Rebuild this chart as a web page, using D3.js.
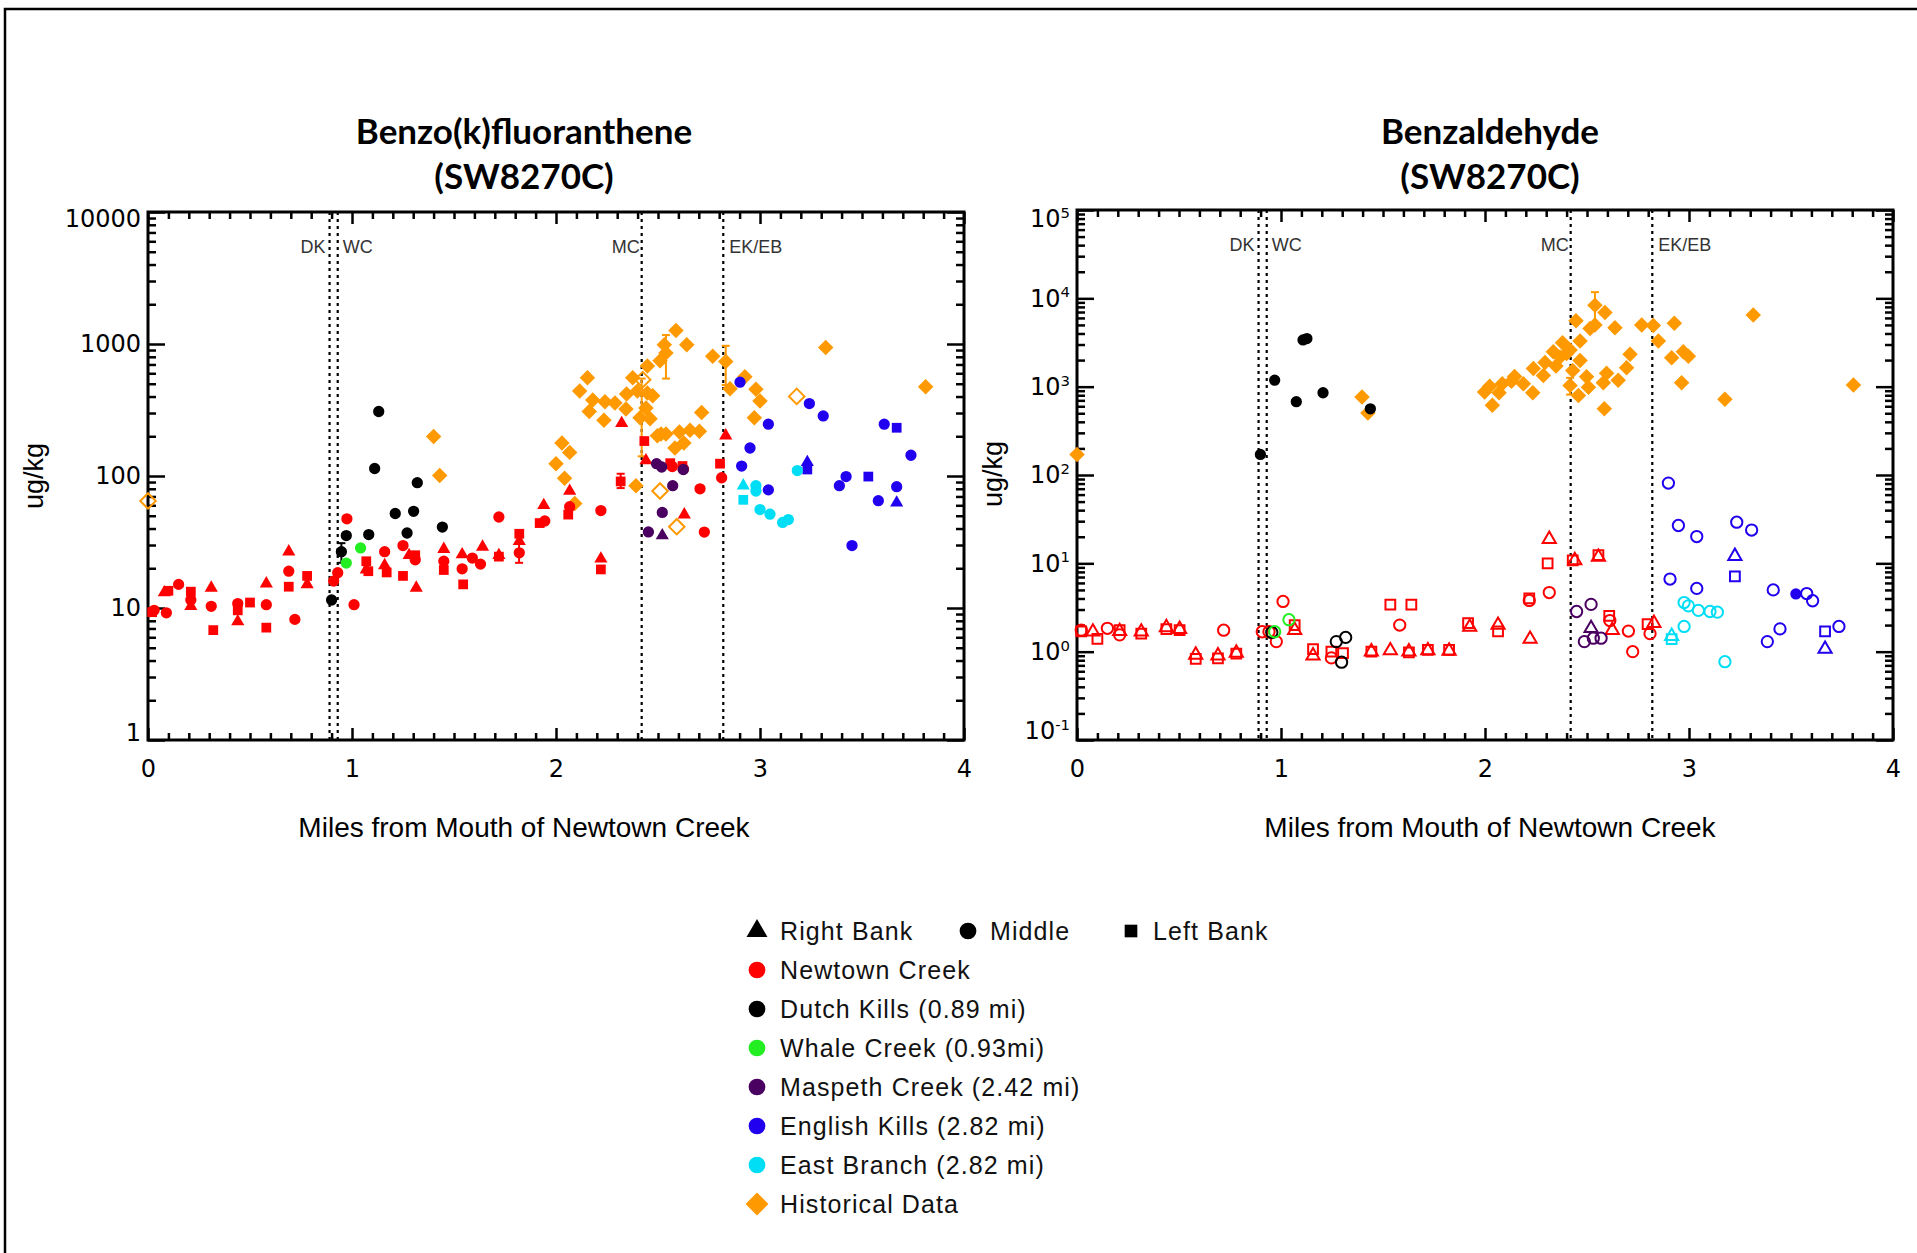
<!DOCTYPE html>
<html><head><meta charset="utf-8">
<script src="https://cdn.jsdelivr.net/npm/d3@7"></script>
<style>
body{margin:0;background:#fff}
svg{display:block}
</style></head><body>
<svg id="chart" width="1917" height="1253"></svg>
<script>
// ---- data: [mile, value, bank (R/M/L), nondetect] ----
const bkfNewtown = [
  [0.02,9.3,"L",0],[0.03,9.6,"M",0],[0.08,13.1,"R",0],[0.10,13.5,"L",0],[0.09,9.2,"M",0],[0.15,15.1,"M",0],
  [0.21,13.3,"L",0],[0.21,11.5,"M",0],[0.21,10.3,"R",0],[0.31,14.2,"R",0],[0.31,10.3,"M",0],[0.32,6.8,"L",0],
  [0.44,10.8,"M",0],[0.44,9.6,"L",0],[0.44,7.9,"R",0],[0.50,11.0,"L",0],[0.58,15.3,"R",0],[0.58,10.6,"M",0],
  [0.58,7.1,"L",0],[0.69,26.7,"R",0],[0.69,19.0,"M",0],[0.69,14.5,"L",0],[0.72,8.2,"M",0],[0.78,17.5,"L",0],
  [0.78,15.1,"R",0],[0.91,16.0,"M",0],[0.93,18.5,"M",0],[0.975,47.4,"M",0],[1.01,10.6,"M",0],[1.07,22.6,"L",0],
  [1.07,19.5,"R",0],[1.08,19.0,"L",0],[1.16,26.7,"M",0],[1.16,21.0,"R",0],[1.17,18.6,"L",0],[1.25,29.7,"M",0],
  [1.25,17.5,"L",0],[1.28,25.1,"R",0],[1.31,25.1,"L",0],[1.31,23.2,"M",0],[1.315,14.2,"R",0],[1.45,27.9,"R",0],
  [1.45,22.6,"M",0],[1.45,19.4,"L",0],[1.54,25.4,"R",0],[1.54,19.8,"M",0],[1.545,15.1,"L",0],[1.59,23.9,"M",0],
  [1.64,29.0,"R",0],[1.63,21.5,"M",0],[1.72,48.9,"M",0],[1.72,25.1,"R",0],[1.72,24.5,"L",0],[1.82,26.2,"M",0],
  [1.82,36.5,"L",0],[1.82,32.0,"R",0],[1.94,60,"R",0],[1.92,44,"L",0],[1.945,45.6,"M",0],[2.067,77,"R",0],
  [2.067,58.5,"M",0],[2.06,51,"L",0],[2.22,54.7,"M",0],[2.317,91,"L",0],[2.322,251,"R",0],[2.22,23.6,"R",0],
  [2.22,19.6,"L",0],[2.433,184,"L",0],[2.441,131,"R",0],[2.56,125,"L",0],[2.57,118,"M",0],[2.62,119,"L",0],
  [2.625,113,"M",0],[2.629,51,"R",0],[2.706,80,"M",0],[2.727,37.6,"M",0],[2.804,124,"L",0],[2.812,97,"M",0],
  [2.832,202,"R",0]
];
const bkfDutch = [
  [0.90,11.5,"M",0],[0.948,26.7,"M",0],[0.972,35.4,"M",0],[1.082,36,"M",0],[1.111,114,"M",0],[1.131,308,"M",0],
  [1.212,52,"M",0],[1.27,37,"M",0],[1.302,54,"M",0],[1.32,89,"M",0],[1.443,41,"M",0]
];
const bkfWhale = [[0.972,21.9,"M",0],[1.042,28.5,"M",0]];
const bkfMaspeth = [
  [2.493,124,"M",0],[2.518,117,"M",0],[2.624,112,"M",0],[2.572,84.5,"M",0],[2.521,53,"M",0],[2.453,37.7,"M",0],
  [2.521,35.4,"R",0]
];
const bkfEnglish = [
  [2.902,514,"M",0],[2.951,163,"M",0],[3.041,247,"M",0],[2.91,119,"M",0],[3.041,78.5,"M",0],[3.242,354,"M",0],
  [3.31,285,"M",0],[3.232,127,"R",0],[3.232,112,"L",0],[3.389,84.5,"M",0],[3.422,99,"M",0],[3.451,29.7,"M",0],
  [3.531,99,"L",0],[3.58,65,"M",0],[3.609,247,"M",0],[3.67,232,"L",0],[3.67,83,"M",0],[3.67,62.7,"R",0],
  [3.74,143.6,"M",0]
];
const bkfEast = [
  [2.918,84.5,"R",0],[2.918,66,"L",0],[2.98,84.5,"M",0],[2.98,77,"M",0],[3.0,55.7,"M",0],[3.049,51.4,"M",0],
  [3.111,44.5,"M",0],[3.139,46.8,"M",0],[3.183,110,"M",0]
];
// historical: [mile, value, nondetect]
const bkfHist = [
  [0,64.7,1],[1.4,199,0],[1.43,100.7,0],[2.0,124,0],[2.029,178,0],[2.067,151,0],[2.042,96,0],[2.092,62,0],
  [2.116,440,0],[2.154,554,0],[2.18,376,0],[2.163,308,0],[2.24,365,0],[2.235,264,0],[2.289,358,0],[2.343,322,0],
  [2.346,418,0],[2.376,554,0],[2.399,440,0],[2.412,276,0],[2.425,537,1],[2.448,680,0],[2.448,426,0],[2.474,405,0],
  [2.441,328,0],[2.461,272,0],[2.497,202,0],[2.515,208,0],[2.539,208,0],[2.51,746,0],[2.539,855,0],[2.531,988,0],
  [2.588,1267,0],[2.641,988,0],[2.605,215,0],[2.583,163,0],[2.627,178,0],[2.657,222,0],[2.703,218,0],[2.714,303,0],
  [2.392,84.5,0],[2.51,77,1],[2.592,41.3,1],[2.768,809,0],[2.832,738,0],[2.853,459,0],[2.926,564,0],[2.98,454,0],
  [3.0,370,0],[2.972,276,0],[3.18,401,1],[3.322,940,0],[3.812,474,0]
];
// error bars: [mile, low, high, group]
const bkfErr = [
  [0.948,22,31,"dutch"],[1.819,22,31,"newtown"],[2.317,81,104,"newtown"],
  [2.539,547,1169,"hist"],[2.42,141,547,"hist"],[2.832,489,969,"hist"]
];

const bzNewtown = [
  [0.021,1.75,"M",1],[0.021,1.7,"L",1],[0.078,1.68,"R",1],[0.10,1.4,"L",1],[0.149,1.84,"M",1],[0.209,1.75,"L",1],
  [0.209,1.7,"R",1],[0.209,1.55,"M",1],[0.315,1.68,"R",1],[0.315,1.6,"L",1],[0.438,1.88,"R",1],[0.438,1.8,"L",1],
  [0.503,1.8,"R",1],[0.503,1.75,"L",1],[0.582,0.92,"R",1],[0.582,0.83,"L",1],[0.691,0.9,"R",1],[0.691,0.84,"L",1],
  [0.719,1.75,"M",1],[0.781,0.97,"R",1],[0.781,0.95,"L",1],[0.908,1.68,"M",1],[0.941,1.68,"M",1],[0.977,1.3,"M",1],
  [1.01,3.7,"M",1],[1.067,2.0,"L",1],[1.067,1.75,"R",1],[1.157,1.07,"L",1],[1.157,0.9,"R",1],[1.247,1.0,"L",1],
  [1.247,0.85,"M",1],[1.304,0.96,"L",1],[1.443,1.0,"R",1],[1.443,1.0,"L",1],[1.536,3.4,"L",1],[1.536,1.03,"R",1],
  [1.582,2.0,"M",1],[1.627,1.0,"R",1],[1.627,0.98,"L",1],[1.639,3.4,"L",1],[1.72,1.03,"R",1],[1.72,1.05,"L",1],
  [1.824,1.02,"R",1],[1.824,1.05,"L",1],[1.917,2.1,"L",1],[1.925,1.9,"R",1],[2.064,2.0,"R",1],[2.064,1.7,"L",1],
  [2.217,4.0,"L",1],[2.217,3.8,"M",1],[2.221,1.39,"R",1],[2.315,18.8,"R",1],[2.307,10.0,"L",1],[2.315,4.67,"M",1],
  [2.43,10.8,"L",1],[2.44,10.8,"R",1],[2.556,12.4,"L",1],[2.556,11.8,"R",1],[2.609,2.55,"L",1],[2.612,2.25,"M",1],
  [2.624,1.75,"R",1],[2.703,1.71,"M",1],[2.724,1.0,"M",1],[2.797,2.05,"L",1],[2.809,1.6,"M",1],[2.828,2.1,"R",1]
];
const bzDutch = [
  [0.899,171,"M",0],[0.969,1183,"M",0],[1.075,676,"M",0],[1.108,3380,"M",0],[1.127,3507,"M",0],[1.206,853,"M",0],
  [1.438,562,"M",0],[0.955,1.65,"M",1],[1.271,1.3,"M",1],[1.317,1.45,"M",1],[1.297,0.76,"M",1]
];
const bzWhale = [[0.969,1.68,"M",1],[1.039,2.3,"M",1]];
const bzMaspeth = [
  [2.449,2.85,"M",1],[2.52,3.43,"M",1],[2.487,1.3,"M",1],[2.52,1.84,"R",1],[2.531,1.42,"M",1],[2.569,1.42,"M",1]
];
const bzEnglish = [
  [2.899,81,"M",1],[2.948,26.8,"M",1],[3.038,20.1,"M",1],[3.234,29.2,"M",1],[3.307,23.8,"M",1],[2.907,6.64,"M",1],
  [3.038,5.2,"M",1],[3.225,12.05,"R",1],[3.225,7.1,"L",1],[3.413,5.0,"M",1],[3.524,4.5,"M",0],[3.577,4.55,"M",1],
  [3.606,3.77,"M",1],[3.446,1.81,"M",1],[3.384,1.3,"M",1],[3.667,1.7,"L",1],[3.667,1.07,"R",1],[3.735,1.93,"M",1]
];
const bzEast = [
  [2.915,1.39,"L",1],[2.915,1.5,"R",1],[2.976,1.93,"M",1],[2.976,3.6,"M",1],[2.997,3.3,"M",1],[3.046,2.93,"M",1],
  [3.103,2.85,"M",1],[3.139,2.8,"M",1],[3.176,0.77,"M",1]
];
const bzHist = [
  [0,171,0],[1.397,764,0],[1.426,503,0],[1.998,869,0],[2.023,1009,0],[2.036,617,0],[2.069,853,0],[2.085,1076,0],
  [2.13,1150,0],[2.145,1300,0],[2.188,1076,0],[2.234,853,0],[2.237,1607,0],[2.286,1334,0],[2.294,1883,0],
  [2.335,2490,0],[2.348,1715,0],[2.38,3140,0],[2.368,2163,0],[2.4,2375,0],[2.417,2607,0],[2.43,1521,0],
  [2.417,1028,0],[2.446,5580,0],[2.458,793,0],[2.466,1972,0],[2.466,3289,0],[2.498,1297,0],[2.507,982,0],
  [2.515,4561,0],[2.539,8340,0],[2.539,5000,0],[2.588,6920,0],[2.585,562,0],[2.58,1107,0],[2.596,1422,0],
  [2.637,4650,0],[2.653,1183,0],[2.694,1637,0],[2.711,2333,0],[2.768,5000,0],[2.825,4911,0],[2.85,3289,0],
  [2.928,5236,0],[2.915,2124,0],[2.972,2490,0],[2.997,2204,0],[2.964,1107,0],[3.176,722,0],[3.315,6490,0],
  [3.806,1047,0]
];
const bzErr = [[2.539,5240,11750,"hist"],[2.417,813,1259,"hist"]];

// reference lines (tributary confluences)
const tribLines = [0.89, 0.93, 2.42, 2.82];
const legendRows = [
  ["newtown","Newtown Creek"],["dutch","Dutch Kills (0.89 mi)"],["whale","Whale Creek (0.93mi)"],
  ["maspeth","Maspeth Creek (2.42 mi)"],["english","English Kills (2.82 mi)"],["east","East Branch (2.82 mi)"],
  ["hist","Historical Data"]
];
const bankLegend = [["R","Right Bank"],["M","Middle"],["L","Left Bank"]];

const colors = {newtown:"#ff0000", dutch:"#000000", whale:"#22ee22", maspeth:"#4a0060",
  english:"#2000ee", east:"#00def5", hist:"#ff9900"};

const svg = d3.select("#chart");
svg.append("rect").attr("width", 1917).attr("height", 1253).attr("fill", "#fff");
svg.append("path").attr("d", "M5,1253V9H1917").attr("fill", "none").attr("stroke", "#000").attr("stroke-width", 2.5);

const diamond = { draw(ctx, size) { const r = Math.sqrt(size / 2); ctx.moveTo(0, -r); ctx.lineTo(r, 0); ctx.lineTo(0, r); ctx.lineTo(-r, 0); ctx.closePath(); } };
const shapeOf = { R: d3.symbolTriangle, M: d3.symbolCircle, L: d3.symbolSquare, H: diamond };
const sizeOf = { R: 75, M: 100, L: 95, H: 120 };
const tickFont = "'DejaVu Sans', sans-serif";

function drawPanel(p) {
  const x = d3.scaleLinear().domain([0, 4]).range([p.left, p.right]);
  const y = d3.scaleLog().domain(p.ydom).range([p.bottom, p.top]);
  const g = svg.append("g");

  // titles
  g.append("text").attr("x", p.cx).attr("y", 144).attr("text-anchor", "middle")
    .attr("font-family", "Lato, 'Open Sans', sans-serif").attr("font-weight", 700).attr("font-size", 35).text(p.title);
  g.append("text").attr("x", p.cx).attr("y", 189).attr("text-anchor", "middle")
    .attr("font-family", "Lato, 'Open Sans', sans-serif").attr("font-weight", 700).attr("font-size", 35).text("(SW8270C)");

  // tributary dotted lines
  g.selectAll("line.trib").data(tribLines).join("line").attr("class", "trib")
    .attr("x1", (d) => x(d)).attr("x2", (d) => x(d)).attr("y1", p.top).attr("y2", p.bottom)
    .attr("stroke", "#000").attr("stroke-width", 2.2).attr("stroke-dasharray", "3 4");
  const lab = g.append("g").attr("font-family", "'Liberation Sans', Arial, sans-serif").attr("font-size", 18).attr("fill", "#333");
  lab.append("text").attr("x", x(0.89) - 4).attr("y", p.top + 41).attr("text-anchor", "end").text("DK");
  lab.append("text").attr("x", x(0.93) + 5).attr("y", p.top + 41).text("WC");
  lab.append("text").attr("x", x(2.42) - 2).attr("y", p.top + 41).attr("text-anchor", "end").text("MC");
  lab.append("text").attr("x", x(2.82) + 6).attr("y", p.top + 41).text("EK/EB");

  // axes: major + minor, mirrored, inward ticks
  const majX = d3.range(0, 5), minX = d3.range(0, 41).map((i) => i / 10).filter((v) => Math.abs(v - Math.round(v)) > 1e-6);
  const dec = d3.range(Math.log10(p.ydom[0]), Math.log10(p.ydom[1]) + 1).map((e) => Math.pow(10, e));
  const minY = [];
  dec.slice(0, -1).forEach((d) => { for (let k = 2; k < 10; k++) minY.push(d * k); });
  const ax = g.append("g");

  ax.append("g").attr("transform", `translate(0,${p.bottom})`)
    .call(d3.axisBottom(x).tickValues(majX).tickSizeInner(-12).tickSizeOuter(0).tickPadding(20).tickFormat(d3.format("d")));
  ax.append("g").attr("transform", `translate(0,${p.bottom})`)
    .call(d3.axisBottom(x).tickValues(minX).tickSizeInner(-7).tickSizeOuter(0).tickFormat(""));
  ax.append("g").attr("transform", `translate(0,${p.top})`)
    .call(d3.axisTop(x).tickValues(majX).tickSizeInner(-12).tickSizeOuter(0).tickFormat(""));
  ax.append("g").attr("transform", `translate(0,${p.top})`)
    .call(d3.axisTop(x).tickValues(minX).tickSizeInner(-7).tickSizeOuter(0).tickFormat(""));

  const leftAx = ax.append("g").attr("transform", `translate(${p.left},0)`)
    .call(d3.axisLeft(y).tickValues(dec).tickSizeInner(-17).tickSizeOuter(0).tickPadding(7).tickFormat(p.sup ? () => "" : d3.format("d")));
  ax.append("g").attr("transform", `translate(${p.left},0)`)
    .call(d3.axisLeft(y).tickValues(minY).tickSizeInner(-8).tickSizeOuter(0).tickFormat(""));
  ax.append("g").attr("transform", `translate(${p.right},0)`)
    .call(d3.axisRight(y).tickValues(dec).tickSizeInner(-17).tickSizeOuter(0).tickFormat(""));
  ax.append("g").attr("transform", `translate(${p.right},0)`)
    .call(d3.axisRight(y).tickValues(minY).tickSizeInner(-8).tickSizeOuter(0).tickFormat(""));
  ax.selectAll(".domain").remove();
  ax.selectAll(":scope > g").attr("font-family", tickFont).attr("font-size", 24);
  ax.selectAll(".tick line").attr("stroke-width", 2.5);
  ax.selectAll(".tick text").attr("fill", "#000");

  if (p.sup) {
    leftAx.selectAll(".tick text").each(function (d) {
      const t = d3.select(this).text("");
      t.append("tspan").text("10");
      t.append("tspan").attr("dy", "-0.62em").attr("font-size", "0.62em").text(Math.round(Math.log10(d)));
    });
  }
  // IDL nudges the end labels inside the frame
  leftAx.selectAll(".tick text").attr("y", (d) => d === dec[0] ? -p.nudge : d === dec[dec.length - 1] ? p.nudge : 0);

  // frame
  g.append("rect").attr("x", p.left).attr("y", p.top).attr("width", p.right - p.left).attr("height", p.bottom - p.top)
    .attr("fill", "none").attr("stroke", "#000").attr("stroke-width", 3);

  // axis titles
  g.append("text").attr("x", p.cx).attr("y", 837).attr("text-anchor", "middle")
    .attr("font-family", "'Liberation Sans', Arial, sans-serif").attr("font-size", 28).text("Miles from Mouth of Newtown Creek");
  g.append("text").attr("transform", `translate(${p.ylabX},${p.ylabY}) rotate(-90)`).attr("text-anchor", "middle")
    .attr("dy", "0.35em").attr("font-family", "'Liberation Sans', Arial, sans-serif").attr("font-size", 27).text("ug/kg");

  // error bars
  const eb = g.append("g").selectAll("g").data(p.err).join("g").attr("stroke", (d) => colors[d[3]]).attr("stroke-width", 2);
  eb.append("line").attr("x1", (d) => x(d[0])).attr("x2", (d) => x(d[0])).attr("y1", (d) => y(d[1])).attr("y2", (d) => y(d[2]));
  eb.append("line").attr("x1", (d) => x(d[0]) - 4).attr("x2", (d) => x(d[0]) + 4).attr("y1", (d) => y(d[1])).attr("y2", (d) => y(d[1]));
  eb.append("line").attr("x1", (d) => x(d[0]) - 4).attr("x2", (d) => x(d[0]) + 4).attr("y1", (d) => y(d[2])).attr("y2", (d) => y(d[2]));

  // points
  p.series.forEach(([data, key]) => {
    const isHist = key === "hist";
    g.append("g").selectAll("path").data(data).join("path")
      .attr("transform", (d) => `translate(${x(d[0])},${y(d[1])})`)
      .attr("d", (d) => { const b = isHist ? "H" : d[2]; return d3.symbol(shapeOf[b], sizeOf[b])(); })
      .attr("fill", (d) => (isHist ? d[2] : d[3]) ? "none" : colors[key])
      .attr("stroke", colors[key])
      .attr("stroke-width", (d) => (isHist ? d[2] : d[3]) ? 2 : 0);
  });
}

drawPanel({
  title: "Benzo(k)fluoranthene", left: 148, right: 964, top: 212, bottom: 740, ydom: [1, 10000], cx: 524,
  ylabX: 34, ylabY: 476, sup: false, nudge: 7, err: bkfErr,
  series: [[bkfHist, "hist"], [bkfNewtown, "newtown"], [bkfDutch, "dutch"], [bkfWhale, "whale"],
    [bkfMaspeth, "maspeth"], [bkfEnglish, "english"], [bkfEast, "east"]]
});
drawPanel({
  title: "Benzaldehyde", left: 1077, right: 1893, top: 210, bottom: 740, ydom: [0.1, 100000], cx: 1490,
  ylabX: 993, ylabY: 474, sup: true, nudge: 9, err: bzErr,
  series: [[bzHist, "hist"], [bzNewtown, "newtown"], [bzDutch, "dutch"], [bzWhale, "whale"],
    [bzMaspeth, "maspeth"], [bzEnglish, "english"], [bzEast, "east"]]
});

// legend
const leg = svg.append("g").attr("font-family", "'Liberation Sans', Arial, sans-serif").attr("font-size", 25)
  .attr("letter-spacing", 1.1).attr("fill", "#111");
const bankX = [[757, 780], [968, 990], [1131, 1153]];
const legSize = { R: 190, M: 220, L: 160, H: 260 };
bankLegend.forEach(([b, label], i) => {
  leg.append("path").attr("transform", `translate(${bankX[i][0]},931)`).attr("d", d3.symbol(shapeOf[b], legSize[b])()).attr("fill", "#000");
  leg.append("text").attr("x", bankX[i][1]).attr("y", 940).text(label);
});
legendRows.forEach(([key, label], i) => {
  const yy = 970 + i * 39;
  const b = key === "hist" ? "H" : "M";
  leg.append("path").attr("transform", `translate(757,${yy})`).attr("d", d3.symbol(shapeOf[b], legSize[b])()).attr("fill", colors[key]);
  leg.append("text").attr("x", 780).attr("y", yy + 9).text(label);
});
</script>
</body></html>
